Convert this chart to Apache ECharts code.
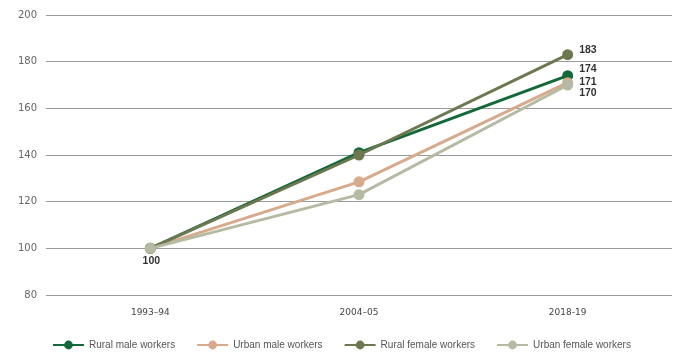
<!DOCTYPE html>
<html>
<head>
<meta charset="utf-8">
<script src="https://cdn.jsdelivr.net/npm/echarts@6/dist/echarts.min.js"></script>
<style>
  html, body { margin: 0; padding: 0; background: #fff; }
  #chart { width: 685px; height: 353px; }
</style>
</head>
<body>
<div id="chart"></div>
<script>
// Wage index (1993-94 = 100) by worker group
const years = ['1993–94', '2004–05', '2018-19'];
const ruralMale = [100, 141, 174];
const urbanMale = [100, 128.5, 171];
const ruralFemale = [100, 140, 183];
const urbanFemale = [100, 123, 170];
const yTicks = { min: 80, max: 200, interval: 20 };

const chart = echarts.init(document.getElementById('chart'));

const labelText = {
  color: '#333',
  fontSize: 10.5,
  fontWeight: 'bold',
  fontFamily: 'Liberation Sans, Arial, sans-serif'
};

// Build point objects; only the final point (and optionally the base point) carries a label
function points(values, endOffsetY, baseLabel) {
  return values.map(function (v, i) {
    const item = { value: v };
    if (i === values.length - 1) {
      item.label = Object.assign({ show: true, position: 'right', distance: 6, offset: [0, endOffsetY] }, labelText);
    } else if (i === 0 && baseLabel) {
      item.label = Object.assign({ show: true, position: 'bottom', distance: 2, offset: [1, 0] }, labelText);
    }
    return item;
  });
}

function makeSeries(name, values, color, endOffsetY, baseLabel, z) {
  return {
    name: name,
    type: 'line',
    data: points(values, endOffsetY, baseLabel),
    symbol: 'circle',
    symbolSize: 11,
    z: z,
    lineStyle: { color: color, width: 3 },
    itemStyle: { color: color },
    label: { show: false },
    emphasis: { disabled: true }
  };
}

const series = [
  makeSeries('Rural male workers', ruralMale, '#14683a', -7, false, 2),
  makeSeries('Urban male workers', urbanMale, '#d6aa8b', -1, false, 3),
  makeSeries('Rural female workers', ruralFemale, '#6b7850', -5, false, 4),
  makeSeries('Urban female workers', urbanFemale, '#b5baa2', 8, true, 5)
];

chart.setOption({
  animation: false,
  backgroundColor: '#fff',
  grid: { left: 46, right: 13, top: 15, bottom: 58 },
  legend: {
    top: 335,
    left: 47,
    itemWidth: 31,
    itemHeight: 11,
    itemGap: 21,
    textStyle: { color: '#555', fontSize: 10, fontFamily: 'Liberation Sans, Arial, sans-serif' },
    data: series.map(s => s.name)
  },
  xAxis: {
    type: 'category',
    data: years,
    boundaryGap: true,
    axisLine: { show: false },
    axisTick: { show: false },
    axisLabel: { color: '#444', fontSize: 9, margin: 13, fontFamily: 'DejaVu Sans, sans-serif' }
  },
  yAxis: {
    type: 'value',
    min: yTicks.min,
    max: yTicks.max,
    interval: yTicks.interval,
    axisLine: { show: false },
    axisTick: { show: false },
    axisLabel: { color: '#666', fontSize: 10, margin: 9, fontFamily: 'DejaVu Sans, sans-serif' },
    splitLine: { lineStyle: { color: '#9a9a9a', width: 1 } }
  },
  series: series
});
</script>
</body>
</html>
